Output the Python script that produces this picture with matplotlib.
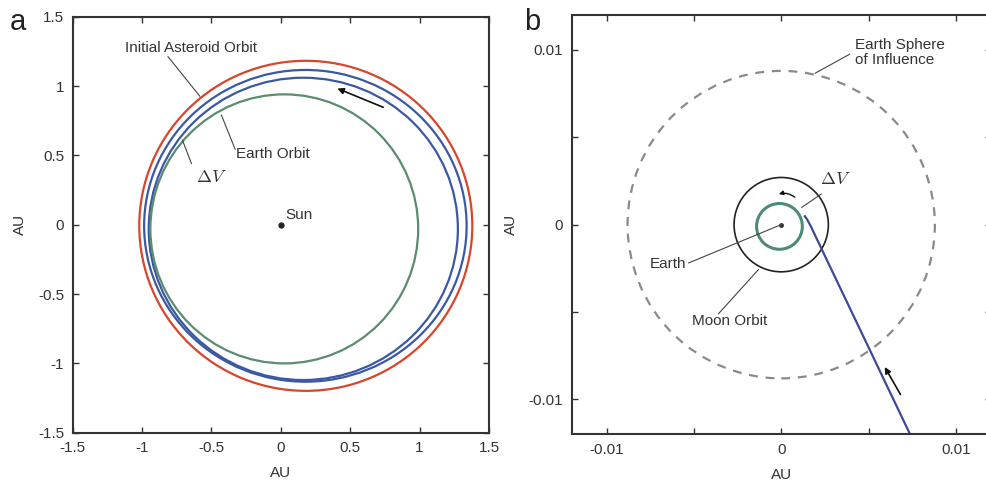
import matplotlib
matplotlib.use("Agg")
import matplotlib.pyplot as plt
from matplotlib.patches import Ellipse, Circle, FancyArrowPatch

plt.rcParams['font.family'] = ['Liberation Sans', 'DejaVu Sans']
plt.rcParams['mathtext.fontset'] = 'cm'
plt.rcParams['axes.unicode_minus'] = False

# ---- panel a: heliocentric orbits (centre x, centre y, width, height in AU)
orbit_names = ['Initial Asteroid Orbit', 'outer transfer', 'Earth Orbit', 'post dV']
orbit_cx = [0.180, 0.177, 0.162, 0.025]
orbit_cy = [-0.008, -0.008, -0.030, -0.030]
orbit_w = [2.40, 2.324, 2.228, 1.930]
orbit_h = [2.38, 2.248, 2.180, 1.940]
orbit_colors = ['#d9452b', '#3b58a3', '#3b58a3', '#5b8c6f']

a_ticks = [-1.5, -1, -0.5, 0, 0.5, 1, 1.5]
a_ticklabels = ['-1.5', '-1', '-0.5', '0', '0.5', '1', '1.5']

# annotations panel a: (text, text xy, leader start, leader end)
a_labels = [
    ('Initial Asteroid Orbit', (-0.645, 1.275), (-0.813, 1.212), (-0.584, 0.927)),
    ('Earth Orbit', (-0.32, 0.513), (-0.329, 0.544), (-0.428, 0.790)),
]
dv_a_text = (-0.61, 0.344)
dv_a_leader = [(-0.644, 0.441), (-0.709, 0.610)]
sun_xy = (0.0, 0.0)
arrow_a = [(0.757, 0.839), (0.389, 0.990)]

# ---- panel b: geocentric view (AU)
soi_radius = 0.0088
moon_radius = 0.0027
green_center = (-0.0001, -0.0001)
green_radius = 0.00131
approach_x = [0.00738, 0.00204, 0.00170, 0.00148, 0.00132]
approach_y = [-0.0120, -0.00082, -0.00010, 0.00030, 0.00053]
arrow_b = [(0.00691, -0.00986), (0.00585, -0.00801)]
arrow_loop = [(0.00090, 0.00147), (-0.00029, 0.00171)]

b_ticks = [-0.01, -0.005, 0, 0.005, 0.01]
b_ticklabels = ['-0.01', '', '0', '', '0.01']

text_color = '#333333'
lead_color = '#444444'
fs = 11

fig = plt.figure(figsize=(9.86, 4.90), dpi=100)
ax_a = fig.add_axes([0.0737, 0.1169, 0.4222, 0.849])
ax_b = fig.add_axes([0.5798, 0.1137, 0.4250, 0.8557])


def style_axes(ax, ticks, labels, lim):
    ax.set_xlim(-lim, lim)
    ax.set_ylim(-lim, lim)
    ax.set_xticks(ticks)
    ax.set_yticks(ticks)
    ax.set_xticklabels(labels)
    ax.set_yticklabels(labels)
    ax.tick_params(direction='in', length=4, width=1, top=True, right=True,
                   labelsize=fs, colors=text_color, pad=6)
    for sp in ax.spines.values():
        sp.set_linewidth(1.5)
        sp.set_color('#333333')
    ax.set_xlabel('AU', fontsize=fs, color=text_color, labelpad=8)
    ax.set_ylabel('AU', fontsize=fs, color=text_color, labelpad=8)


# panel a
style_axes(ax_a, a_ticks, a_ticklabels, 1.5)
for cx, cy, w, h, c in zip(orbit_cx, orbit_cy, orbit_w, orbit_h, orbit_colors):
    ax_a.add_patch(Ellipse((cx, cy), w, h, fill=False, edgecolor=c, linewidth=1.6))
ax_a.plot(*sun_xy, 'o', color='#222222', markersize=3.5)
ax_a.text(sun_xy[0] + 0.03, sun_xy[1] + 0.07, 'Sun', fontsize=fs, color=text_color, va='center')
for txt, txy, p0, p1 in a_labels:
    ax_a.text(txy[0], txy[1], txt, fontsize=fs, color=text_color,
              ha='center' if txt.startswith('Initial') else 'left', va='center')
    ax_a.plot([p0[0], p1[0]], [p0[1], p1[1]], color=lead_color, lw=0.8)
ax_a.text(dv_a_text[0], dv_a_text[1], r'$\Delta V$', fontsize=13, color=text_color, va='center')
ax_a.plot([dv_a_leader[0][0], dv_a_leader[1][0]], [dv_a_leader[0][1], dv_a_leader[1][1]],
          color=lead_color, lw=0.8)
ax_a.add_patch(FancyArrowPatch(arrow_a[0], arrow_a[1], arrowstyle='-|>', mutation_scale=9,
                               color='#111111', lw=1.2))
fig.text(0.010, 0.955, 'a', fontsize=21, color='#222222', va='center')

# panel b
style_axes(ax_b, b_ticks, b_ticklabels, 0.012)
ax_b.add_patch(Circle((0, 0), soi_radius, fill=False, edgecolor='#8a8a8a', lw=1.6,
                      linestyle=(0, (4, 3.5))))
ax_b.add_patch(Circle((0, 0), moon_radius, fill=False, edgecolor='#222222', lw=1.2))
ax_b.add_patch(Circle(green_center, green_radius, fill=False, edgecolor='#4f8a78', lw=2.2))
ax_b.plot(approach_x, approach_y, color='#3d4a96', lw=1.6, solid_capstyle='butt')
ax_b.plot(0, 0, 'o', color='#333333', markersize=2.5)
ax_b.add_patch(FancyArrowPatch(arrow_b[0], arrow_b[1], arrowstyle='-|>', mutation_scale=9,
                               color='#111111', lw=1.2))
ax_b.add_patch(FancyArrowPatch(arrow_loop[0], arrow_loop[1], arrowstyle='-|>', mutation_scale=6,
                               connectionstyle='arc3,rad=0.3', color='#111111', lw=1.0))

ax_b.text(0.00424, 0.00985, 'Earth Sphere\nof Influence', fontsize=fs, color=text_color,
          ha='left', va='center', linespacing=1.15)
ax_b.plot([0.00391, 0.00195], [0.00975, 0.00867], color=lead_color, lw=0.8)
ax_b.text(0.00223, 0.00261, r'$\Delta V$', fontsize=13, color=text_color, va='center')
ax_b.plot([0.00229, 0.00118], [0.00175, 0.00099], color=lead_color, lw=0.8)
ax_b.text(-0.00754, -0.00225, 'Earth', fontsize=fs, color=text_color, va='center')
ax_b.plot([-0.0053, 0.0], [-0.00219, 0.0], color=lead_color, lw=0.8)
ax_b.text(-0.00511, -0.00549, 'Moon Orbit', fontsize=fs, color=text_color, va='center')
ax_b.plot([-0.00359, -0.0013], [-0.0051, -0.00257], color=lead_color, lw=0.8)
fig.text(0.532, 0.955, 'b', fontsize=21, color='#222222', va='center')

fig.savefig('out.png', dpi=100)
